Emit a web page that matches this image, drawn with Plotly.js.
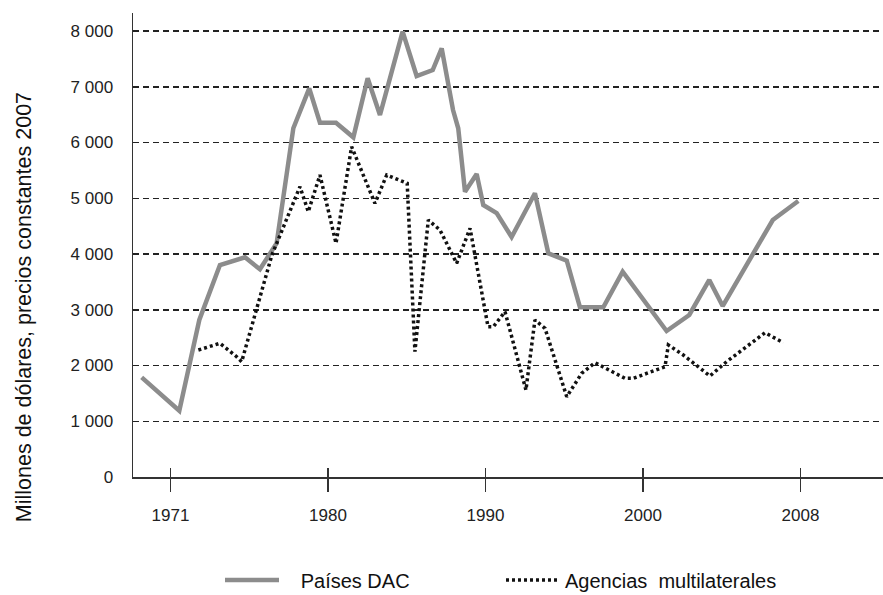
<!DOCTYPE html>
<html>
<head>
<meta charset="utf-8">
<script src="https://cdn.plot.ly/plotly-3.0.1.min.js"></script>
<style>html,body{margin:0;padding:0;background:#fff;}#chart{width:883px;height:595px;}</style>
</head>
<body>
<div id="chart"></div>
<script>
// Países DAC (solid grey)
const dacYears = [1968.17,1970.56,1971.83,1973.14,1974.73,1975.68,1976.74,1977.80,1978.81,1979.49,1980.51,1981.61,1982.52,1983.30,1984.74,1985.63,1986.65,1987.22,1987.94,1988.27,1988.70,1989.44,1989.86,1990.71,1991.66,1993.14,1993.99,1995.16,1996.00,1997.48,1998.71,2001.50,2002.94,2004.21,2005.06,2008.24,2009.86];
const dacValues = [1788,1189,2816,3803,3941,3726,4192,6255,6972,6355,6355,6093,7152,6493,7988,7193,7300,7690,6583,6255,5118,5435,4879,4735,4305,5089,4013,3880,3044,3044,3683,2619,2906,3534,3067,4610,4951];

// Agencias multilaterales (dotted black)
const multiYears = [1971.77,1973.14,1974.20,1974.52,1976.44,1978.22,1978.75,1979.49,1980.51,1981.50,1982.98,1983.73,1985.03,1985.52,1986.37,1987.11,1988.17,1989.02,1990.16,1990.50,1991.24,1992.57,1993.14,1993.78,1995.16,1996.11,1996.95,1998.86,1999.38,2001.40,2001.61,2002.56,2004.25,2005.31,2007.75,2008.91];
const multiValues = [2278,2398,2158,2068,3982,5207,4759,5417,4192,5925,4909,5417,5268,2248,4610,4431,3833,4461,2696,2696,2965,1560,2816,2667,1440,1860,2050,1770,1770,1978,2368,2188,1812,2068,2588,2409];

// Axis ticks
const xTickVals = [1970,1980,1990,2000,2010];
const xTickText = ['1971','1980','1990','2000','2008'];

const seriesNames = ['\u00a0\u00a0\u00a0Países DAC','Agencias  multilaterales'];
const yTitle = 'Millones de dólares, precios constantes 2007';

const FONT = 'Arial, "Liberation Sans", sans-serif';

const traces = [
  {x: dacYears, y: dacValues, type: 'scatter', mode: 'lines', name: seriesNames[0],
   xaxis: 'x', yaxis: 'y',
   line: {color: '#8c8c8c', width: 4.5}},
  {x: multiYears, y: multiValues, type: 'scatter', mode: 'lines', name: seriesNames[1],
   xaxis: 'x2', yaxis: 'y',
   line: {color: '#111111', width: 3.5, dash: '3px,3px'}}
];

const xRange = [1967.62, 2015.24];

const layout = {
  width: 883, height: 595,
  margin: {l: 133, r: 0, t: 13, b: 118, pad: 0, autoexpand: false},
  paper_bgcolor: '#ffffff', plot_bgcolor: '#ffffff',
  separators: '. ',
  font: {family: FONT, color: '#222'},
  showlegend: true,
  legend: {orientation: 'h', x: 0.116, xanchor: 'left', y: -0.222, yanchor: 'middle',
           font: {family: FONT, size: 20, color: '#111'}, itemwidth: 54,
           entrywidth: 212, entrywidthmode: 'pixels', bgcolor: 'rgba(0,0,0,0)'},
  xaxis: {range: xRange, tickvals: xTickVals, ticktext: xTickText,
          ticks: 'outside', ticklen: 13, tickwidth: 1.5, tickcolor: '#333',
          showline: true, linecolor: '#333', linewidth: 1.5,
          showgrid: false, zeroline: false, ticklabelstandoff: 9,
          tickfont: {family: FONT, size: 17, color: '#222'}},
  xaxis2: {range: xRange, overlaying: 'x', anchor: 'y', side: 'bottom',
           tickvals: xTickVals, ticks: 'inside', ticklen: 9, tickwidth: 1.5, tickcolor: '#333',
           showticklabels: false, showline: false, showgrid: false, zeroline: false},
  yaxis: {range: [0, 8323], dtick: 1000, tick0: 0, tickformat: ',d',
          showgrid: true, gridcolor: '#222', gridwidth: 1.5, griddash: '6px,4px',
          showline: true, linecolor: '#333', linewidth: 1.5, zeroline: false,
          ticks: '', ticklabelstandoff: 15,
          tickfont: {family: FONT, size: 17, color: '#222'}},
  annotations: [{text: yTitle, xref: 'paper', yref: 'paper', x: -0.1453, y: 0.366,
                 xanchor: 'center', yanchor: 'middle', textangle: -90, showarrow: false,
                 font: {family: FONT, size: 21.5, color: '#111'}}]
};

Plotly.newPlot('chart', traces, layout, {displayModeBar: false, staticPlot: true});
</script>
</body>
</html>
